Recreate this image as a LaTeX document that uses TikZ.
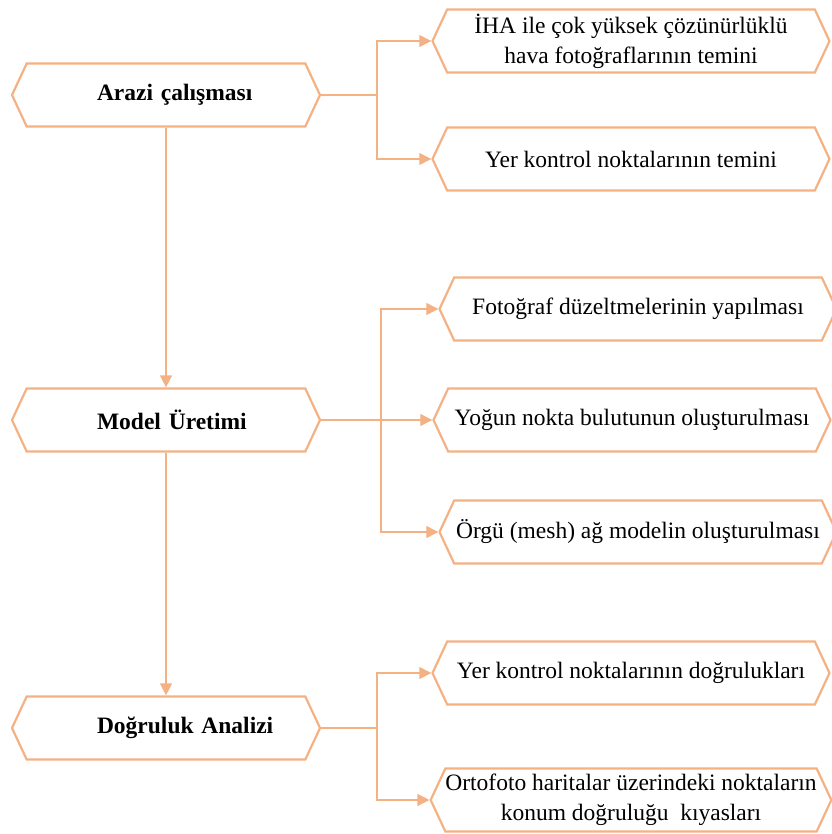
\documentclass[tikz,border=0pt]{standalone}
\usepackage{fontspec}
\setmainfont{Liberation Serif}
\usetikzlibrary{shapes.symbols}
\usetikzlibrary{arrows.meta}
\definecolor{peach}{HTML}{F4B183}

\tikzset{
  hexbox/.style={signal, signal to=east and west, signal pointer angle=130,
    draw=peach, line width=2.2pt, minimum height=63pt, inner sep=0pt,
    font=\fontsize{23.5}{30}\selectfont},
  mainbox/.style={hexbox, minimum width=308pt, font=\fontsize{23.5}{28}\selectfont\bfseries,
    text width=250pt, align=left, execute at begin node={\hspace*{56pt}}},
  subbox/.style={hexbox, minimum width=397pt, align=center},
  link/.style={draw=peach, line width=1.3pt},
  arr/.style={link, -{Triangle[length=12pt,width=12pt]}}
}

\begin{document}
\begin{tikzpicture}[x=1pt,y=-1pt]
        \useasboundingbox (0,0) rectangle (831,834);
        % main steps
        \node [mainbox] (arazi) at (166,95) {Arazi çalışması};
        \node [mainbox] (model) at (166,420) {Model Üretimi};
        \node [mainbox] (dogruluk) at (166,728) {Doğruluk Analizi};
        % sub steps
        \node [subbox] (iha) at (631,41) {İHA ile çok yüksek çözünürlüklü\\hava fotoğraflarının temini};
        \node [subbox] (ykn) at (631,159) {Yer kontrol noktalarının temini};
        \node [subbox] (duzelt) at (638,309) {Fotoğraf düzeltmelerinin yapılması};
        \node [subbox] (bulut) at (632,420) {Yoğun nokta bulutunun oluşturulması};
        \node [subbox] (mesh) at (638,532) {Örgü (mesh) ağ modelin oluşturulması};
        \node [subbox] (dogru) at (631,673) {Yer kontrol noktalarının doğrulukları};
        \node [subbox] (orto) at (631,800) {Ortofoto haritalar üzerindeki noktaların\\konum doğruluğu~ kıyasları};
        % branch points
        \coordinate (b1) at (377,95);
        \coordinate (b2) at (381,420);
        \coordinate (b3) at (377,728);
        % connectors
        \draw [arr] (arazi.south) -- (model.north);
        \draw [arr] (model.south) -- (dogruluk.north);
        \draw [link] (arazi.east) -- (b1);
        \draw [arr] (b1) |- (iha.west);
        \draw [arr] (b1) |- (ykn.west);
        \draw [arr] (model.east) -- (bulut.west);
        \draw [arr] (b2) |- (duzelt.west);
        \draw [arr] (b2) |- (mesh.west);
        \draw [link] (dogruluk.east) -- (b3);
        \draw [arr] (b3) |- (dogru.west);
        \draw [arr] (b3) |- (orto.west);
    \end{tikzpicture}
\end{document}
